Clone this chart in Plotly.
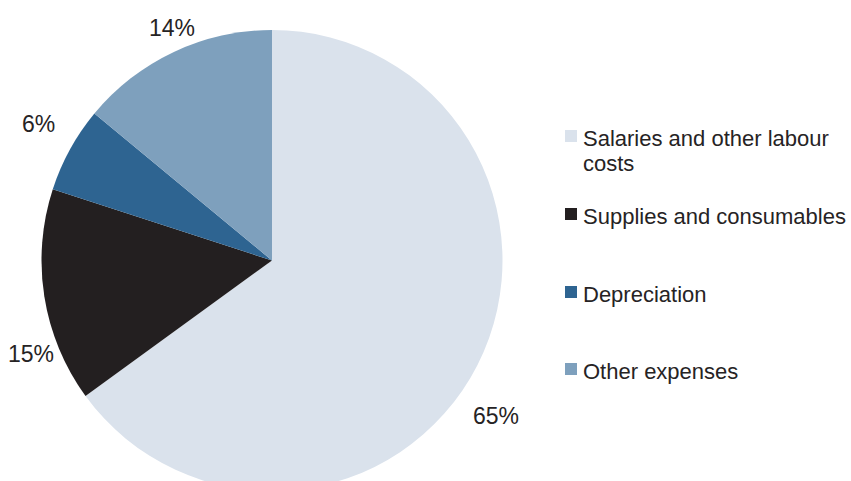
import math
import plotly.graph_objects as go

# Expense breakdown
categories = ["Salaries and other labour costs", "Supplies and consumables",
              "Depreciation", "Other expenses"]
legend_lines = [["Salaries and other labour", "costs"], ["Supplies and consumables"],
                ["Depreciation"], ["Other expenses"]]
shares = [65, 15, 6, 14]
colors = ["#DAE2EC", "#231F20", "#2E6491", "#7EA0BD"]

W, H = 851, 491          # figure is a little taller than the view; the pie runs off the bottom
FONT = "Liberation Sans, Arial, sans-serif"
TEXT_COLOR = "#262324"

# pie geometry in pixels
cx, top = 272, 30
R = (H - top) / 2
cy = top + R

# per-slice nudges (pixels) for the percentage labels
label_shift = [(-10, 36), (19, 52), (-3, -10), (12, 5)]


def px(x):
    return x / W


def py(y):
    return 1 - y / H


fig = go.Figure(go.Pie(
    labels=categories,
    values=shares,
    marker=dict(colors=colors, line=dict(width=0)),
    sort=False,
    direction="clockwise",
    rotation=0,
    textinfo="none",
    hoverinfo="label+percent",
    showlegend=False,
    domain=dict(x=[px(cx - R), px(cx + R)], y=[0, py(top)]),
))

# percentage labels outside each slice, placed from the slice mid-angle
total = sum(shares)
cum = 0
annotations = []
for v, (sx, sy) in zip(shares, label_shift):
    mid = (cum + v / 2) / total * 2 * math.pi
    cum += v
    d = R * 1.14
    lx = cx + d * math.sin(mid)
    ly = cy - d * math.cos(mid)
    annotations.append(dict(
        x=px(lx), y=py(ly), xref="paper", yref="paper",
        xshift=sx, yshift=-sy,
        text=f"{round(v / total * 100)}%", showarrow=False,
        xanchor="center", yanchor="middle",
        font=dict(family=FONT, size=23, color=TEXT_COLOR),
    ))

# legend on the right
shapes = []
legend_y = [138, 216, 294, 371]
line_gap = 25
for lines, col, y in zip(legend_lines, colors, legend_y):
    shapes.append(dict(type="rect", xref="paper", yref="paper",
                       x0=px(565), x1=px(577), y0=py(y - 8), y1=py(y + 4),
                       fillcolor=col, line=dict(width=0)))
    for i, txt in enumerate(lines):
        annotations.append(dict(
            x=px(581), y=py(y + i * line_gap), xref="paper", yref="paper",
            text=txt, showarrow=False, xanchor="left", yanchor="middle", align="left",
            font=dict(family=FONT, size=22, color=TEXT_COLOR),
        ))

fig.update_layout(
    width=W, height=H,
    margin=dict(l=0, r=0, t=0, b=0),
    paper_bgcolor="white", plot_bgcolor="white",
    annotations=annotations, shapes=shapes,
)

fig.write_html(
    "out.html",
    post_script="document.documentElement.style.overflow='hidden';"
                "document.body.style.overflow='hidden';document.body.style.margin='0';",
)
